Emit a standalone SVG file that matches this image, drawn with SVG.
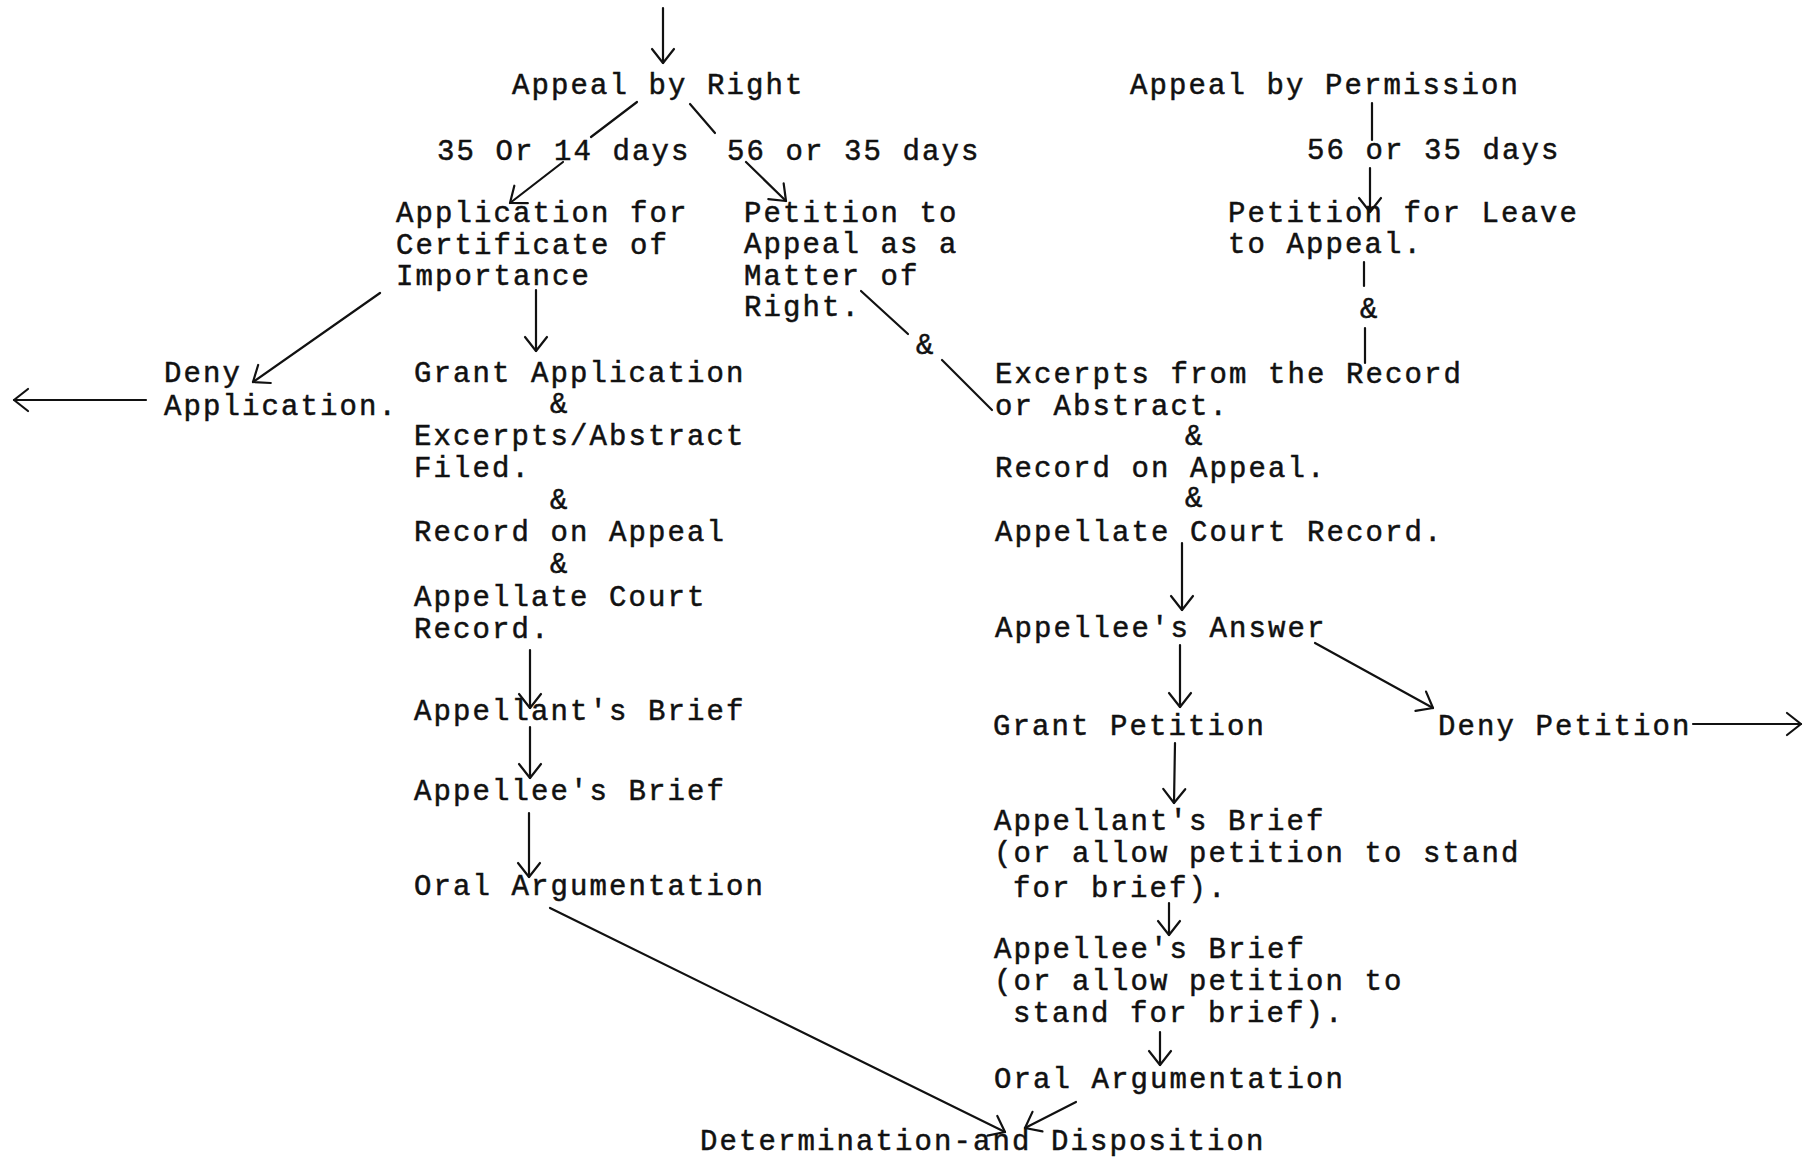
<svg xmlns="http://www.w3.org/2000/svg" width="1804" height="1158" viewBox="0 0 1804 1158">
  <defs>
    <style>
      text { font-family: "Liberation Mono", "Courier New", monospace; font-size: 29px; letter-spacing: 2.1px; fill: #111; stroke: #111; stroke-width: 0.5; }
      .c line { stroke: #111; stroke-width: 2.2; fill: none; stroke-linecap: round; }
      .a { marker-end: url(#head); }
    </style>
    <marker id="head" viewBox="-16 -14 18 28" refX="0" refY="0" markerWidth="18" markerHeight="28" markerUnits="userSpaceOnUse" orient="auto">
      <path d="M-14,-11 L0,0 L-14,11" fill="none" stroke="#111" stroke-width="2.2" stroke-linecap="round" stroke-linejoin="round"/>
    </marker>
  </defs>
  <rect width="1804" height="1158" fill="#fff"/>

  <g id="appeal-by-right"><text x="512" y="94">Appeal by Right</text></g>
  <g id="days-35-14"><text x="437" y="160">35 Or 14 days</text></g>
  <g id="days-56-35-a"><text x="727" y="160">56 or 35 days</text></g>
  <g id="appeal-by-permission"><text x="1130" y="94">Appeal by Permission</text></g>
  <g id="days-56-35-b"><text x="1307" y="159">56 or 35 days</text></g>

  <g id="application-certificate">
    <text x="396" y="222">Application for</text>
    <text x="396" y="254">Certificate of</text>
    <text x="396" y="285">Importance</text>
  </g>
  <g id="petition-matter-of-right">
    <text x="744" y="222">Petition to</text>
    <text x="744" y="253">Appeal as a</text>
    <text x="744" y="285">Matter of</text>
    <text x="744" y="316">Right.</text>
  </g>
  <g id="petition-leave">
    <text x="1228" y="222">Petition for Leave</text>
    <text x="1228" y="253">to Appeal.</text>
  </g>
  <g id="amp-right"><text x="1360" y="318">&amp;</text></g>
  <g id="amp-mid"><text x="916" y="354">&amp;</text></g>

  <g id="deny-application">
    <text x="164" y="382">Deny</text>
    <text x="164" y="415">Application.</text>
  </g>
  <g id="grant-application">
    <text x="414" y="382">Grant Application</text>
    <text x="550" y="413">&amp;</text>
    <text x="414" y="445">Excerpts/Abstract</text>
    <text x="414" y="477">Filed.</text>
    <text x="550" y="509">&amp;</text>
    <text x="414" y="541">Record on Appeal</text>
    <text x="550" y="573">&amp;</text>
    <text x="414" y="606">Appellate Court</text>
    <text x="414" y="638">Record.</text>
  </g>
  <g id="appellant-brief-left"><text x="414" y="720">Appellant's Brief</text></g>
  <g id="appellee-brief-left"><text x="414" y="800">Appellee's Brief</text></g>
  <g id="oral-left"><text x="414" y="895">Oral Argumentation</text></g>

  <g id="excerpts-record">
    <text x="995" y="383">Excerpts from the Record</text>
    <text x="995" y="415">or Abstract.</text>
    <text x="1185" y="445">&amp;</text>
    <text x="995" y="477">Record on Appeal.</text>
    <text x="1185" y="507">&amp;</text>
    <text x="995" y="541">Appellate Court Record.</text>
  </g>
  <g id="appellee-answer"><text x="995" y="637">Appellee's Answer</text></g>
  <g id="grant-petition"><text x="993" y="735">Grant Petition</text></g>
  <g id="deny-petition"><text x="1438" y="735">Deny Petition</text></g>
  <g id="appellant-brief-right">
    <text x="994" y="830">Appellant's Brief</text>
    <text x="994" y="862">(or allow petition to stand</text>
    <text x="1013" y="897">for brief).</text>
  </g>
  <g id="appellee-brief-right">
    <text x="994" y="958">Appellee's Brief</text>
    <text x="994" y="990">(or allow petition to</text>
    <text x="1013" y="1022">stand for brief).</text>
  </g>
  <g id="oral-right"><text x="994" y="1088">Oral Argumentation</text></g>
  <g id="determination"><text x="700" y="1150">Determination-and Disposition</text></g>

  <g id="connectors" class="c">
    <line class="a" x1="663" y1="8" x2="663" y2="63"/>
    <line x1="637" y1="102" x2="591" y2="137"/>
    <line class="a" x1="563" y1="162" x2="510" y2="203"/>
    <line x1="690" y1="104" x2="715" y2="133"/>
    <line class="a" x1="746" y1="162" x2="786" y2="201"/>
    <line x1="1372" y1="103" x2="1372" y2="140"/>
    <line class="a" x1="1370" y1="168" x2="1370" y2="212"/>
    <line class="a" x1="536" y1="290" x2="536" y2="351"/>
    <line class="a" x1="380" y1="293" x2="253" y2="382"/>
    <line class="a" x1="146" y1="400" x2="14" y2="400"/>
    <line x1="861" y1="291" x2="908" y2="334"/>
    <line x1="942" y1="360" x2="992" y2="410"/>
    <line x1="1364" y1="262" x2="1364" y2="286"/>
    <line x1="1365" y1="328" x2="1365" y2="363"/>
    <line class="a" x1="530" y1="650" x2="530" y2="708"/>
    <line class="a" x1="530" y1="727" x2="530" y2="778"/>
    <line class="a" x1="529" y1="813" x2="529" y2="877"/>
    <line class="a" x1="550" y1="908" x2="1005" y2="1132"/>
    <line class="a" x1="1182" y1="543" x2="1182" y2="610"/>
    <line class="a" x1="1180" y1="645" x2="1180" y2="707"/>
    <line class="a" x1="1315" y1="643" x2="1433" y2="708"/>
    <line class="a" x1="1693" y1="724" x2="1801" y2="724"/>
    <line class="a" x1="1175" y1="743" x2="1174" y2="803"/>
    <line class="a" x1="1169" y1="903" x2="1169" y2="935"/>
    <line class="a" x1="1160" y1="1032" x2="1160" y2="1065"/>
    <line class="a" x1="1076" y1="1102" x2="1025" y2="1128"/>
  </g>
</svg>
